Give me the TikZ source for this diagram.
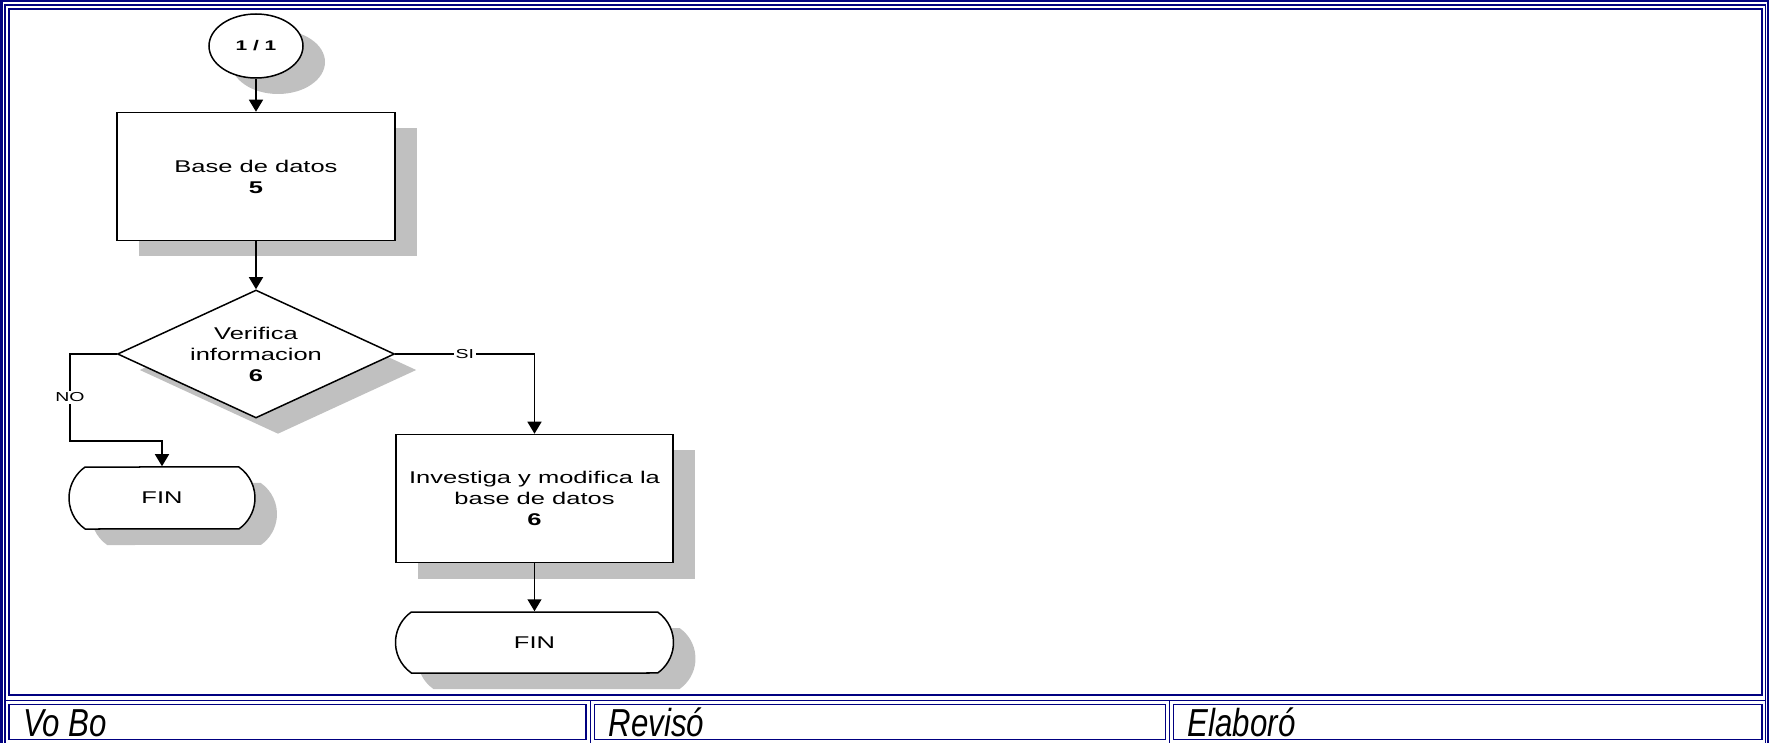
\documentclass[tikz,border=0pt]{standalone}
\usepackage{fontspec}
\usepackage{tikz}
\usetikzlibrary{
  shapes.geometric, shapes.misc,
  arrows.meta,
  positioning, shadows
}
\newfontfamily\chartfont{Liberation Sans}[FakeStretch=1.5]
\newfontfamily\cellfont{Liberation Sans}[FakeStretch=0.8]
\definecolor{framenavy}{RGB}{0,0,128}
\definecolor{shadegray}{RGB}{192,192,192}
\tikzset{
  basebox/.style={draw=black,fill=white,line width=0.75pt,align=center,inner sep=0pt,
    font=\chartfont\fontsize{8.5}{10.5}\selectfont,
    drop shadow={shadow xshift=11pt,shadow yshift=-8pt,fill=shadegray,opacity=1}},
  connnode/.style={basebox,ellipse,minimum width=47pt,minimum height=32pt,
    font=\chartfont\fontsize{7}{8}\selectfont\bfseries},
  procnode/.style={basebox,rectangle,minimum width=139pt,minimum height=64pt},
  decnode/.style={basebox,diamond,aspect=2.16,minimum width=138.5pt,minimum height=64pt},
  termnode/.style={basebox,rounded rectangle,rounded rectangle arc length=110,
    minimum width=93pt,minimum height=31pt},
  arr/.style={-{Triangle[length=6pt,width=7pt]},line width=0.75pt,color=black},
  notelabel/.style={fill=white,inner sep=1pt,font=\chartfont\fontsize{6.5}{7}\selectfont},
  outerframe/.style={draw=framenavy,line width=1.25pt},
  midframe/.style={draw=framenavy,line width=0.6pt},
  cellframe/.style={draw=framenavy,line width=0.9pt},
  celltext/.style={anchor=base west,inner sep=0pt,font=\cellfont\itshape\fontsize{19.5}{19.5}\selectfont}
}

\begin{document}
\begin{tikzpicture}[x=0.5pt,y=-0.5pt]
  \useasboundingbox (0,0) rectangle (1769,743);

  %% Off-page connector
  \node[connnode] (conn) at (256,46) {1 / 1};

  %% Database step
  \node[procnode,below=16.5pt of conn] (basedatos)
    {Base de datos\\\textbf{5}};

  %% Decision
  \node[decnode,below=24pt of basedatos] (verifica)
    {Verifica\\informacion\\\textbf{6}};

  %% NO branch
  \node[termnode] (finno) at (162,498) {FIN};

  %% SI branch
  \node[procnode,minimum width=138.5pt] (investiga) at (534.5,498.5)
    {Investiga y modifica la\\base de datos\\\textbf{6}};
  \node[termnode,below=24pt of investiga,minimum width=139pt,minimum height=30.5pt] (finsi)
    {FIN};

  \coordinate (nobend) at (70,441);

  %% ── ARROWS ──────────────────────────────────────────────
  \draw[arr] (conn.south) -- (basedatos.north);
  \draw[arr] (basedatos.south) -- (verifica.north);

  %% verifica → FIN (NO)
  \draw[arr] (verifica.west) -- (verifica.west -| nobend)
      -- node[notelabel]{NO} (nobend) -| (finno.north);

  %% verifica → investiga (SI)
  \draw[arr] (verifica.east) -- node[notelabel]{SI} (verifica.east -| investiga.north)
      -- (investiga.north);

  \draw[arr] (investiga.south) -- (finsi.north);

  %% ── SIGNATURE ROW ───────────────────────────────────────
  \foreach \xa/\xb/\txt [count=\i] in {8.75/586/Vo Bo, 594.5/1165.5/Revisó, 1173.5/1762/Elaboró}{
    \node[celltext] (firma\i) at (\xa+14,736.5) {\txt};
    \draw[cellframe] (\xa,704.5) rectangle (\xb,739.5);
  }

  %% Page frame
  \draw[outerframe] (1.25,1.25) rectangle (1768,760);
  \draw[midframe] (5,5) rectangle (1765.5,760);
  \draw[midframe] (5,700.5) -- (1765.5,700.5);
  \draw[midframe] (590.5,700.5) -- (590.5,760);
  \draw[midframe] (1169.5,700.5) -- (1169.5,760);
  \draw[cellframe] (8.75,8.75) rectangle (1762,695);

\end{tikzpicture}
\end{document}
